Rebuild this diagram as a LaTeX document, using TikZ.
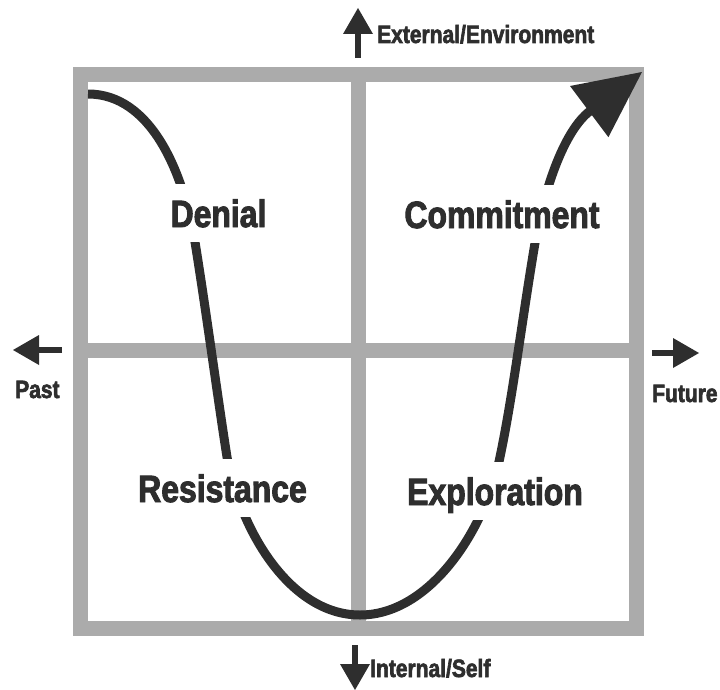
\documentclass[tikz,border=0pt]{standalone}
\usepackage{fontspec}
\newfontfamily\stagefont[FakeStretch=0.84, FakeBold=2.5]{Liberation Sans Bold}
\usetikzlibrary{arrows.meta}

\begin{document}
\begin{tikzpicture}[x = 1pt, y = -1pt,
		frame/.style = {draw = black!33, line width = 15pt},
		axis/.style = {draw = black!82, line width = 6pt, -{Triangle[length = 26pt, width = 30pt, line width = 0pt]}},
		axislabel/.style = {font = \stagefont\fontsize{25}{27}\selectfont, text = black!82, inner sep = 0pt},
		stage/.style = {font = \stagefont\fontsize{38}{40}\selectfont, text = black!82, fill = white, text height = 28pt, text depth = 0pt, inner xsep = 4pt, inner ysep = 15pt}]
					\def\xMIN{80.5};
					\def\xMAX{636};
					\def\xMID{358};
					\def\yMIN{75};
					\def\yMAX{628};
					\def\yMID{350.5};

					\useasboundingbox (0,0) rectangle (720,690);

					\begin{scope}[frame]
						\draw (\xMIN,\yMIN) rectangle (\xMAX,\yMAX);
						\draw (\xMID,\yMIN) -- (\xMID,\yMAX);
						\draw (\xMIN,\yMID) -- (\xMAX,\yMID);
					\end{scope}

					\begin{scope}[draw = black!82, line width = 9pt]
						\coordinate (start) at (88,94);
						\coordinate (headBase) at (590,111);
						\coordinate (headTip) at (642,72);
						\draw (start) .. controls (150,94) and (183,170) .. (195,242)
							.. controls (206,310) and (218,400) .. (227,457)
							.. controls (240,530) and (290,615) .. (360,615)
							.. controls (430,615) and (485,530) .. (500,457)
							.. controls (513,395) and (522,320) .. (535,243)
							.. controls (545,185) and (565,130) .. (headBase);
						\draw [-{Triangle[length = 66pt, width = 64pt, line width = 0pt]}] (headBase) -- (headTip);
					\end{scope}

					\node [stage, anchor = base] (denial) at (218.5,227) {Denial};
					\node [stage, anchor = base] (commitment) at (502,228) {Commitment};
					\node [stage, anchor = base] (resistance) at (222.5,502) {Resistance};
					\node [stage, anchor = base] (exploration) at (495,505) {Exploration};

					\begin{scope}
						\coordinate (extBase) at (358,58);
						\coordinate (extTip) at (358,8);
						\coordinate (intBase) at (355,645);
						\coordinate (intTip) at (355,690);
						\coordinate (pastBase) at (62,350);
						\coordinate (pastTip) at (13,350);
						\coordinate (futBase) at (652,353);
						\coordinate (futTip) at (699,353);
						\draw [axis] (extBase) -- (extTip);
						\draw [axis] (intBase) -- (intTip);
						\draw [axis] (pastBase) -- (pastTip);
						\draw [axis] (futBase) -- (futTip);
					\end{scope}

					\node [axislabel, anchor = base west] (external) at (377,43) {External/Environment};
					\node [axislabel, anchor = base west] (internal) at (370,677) {Internal/Self};
					\node [axislabel, anchor = base west] (past) at (15,398) {Past};
					\node [axislabel, anchor = base west] (future) at (652,402) {Future};
				\end{tikzpicture}
\end{document}
